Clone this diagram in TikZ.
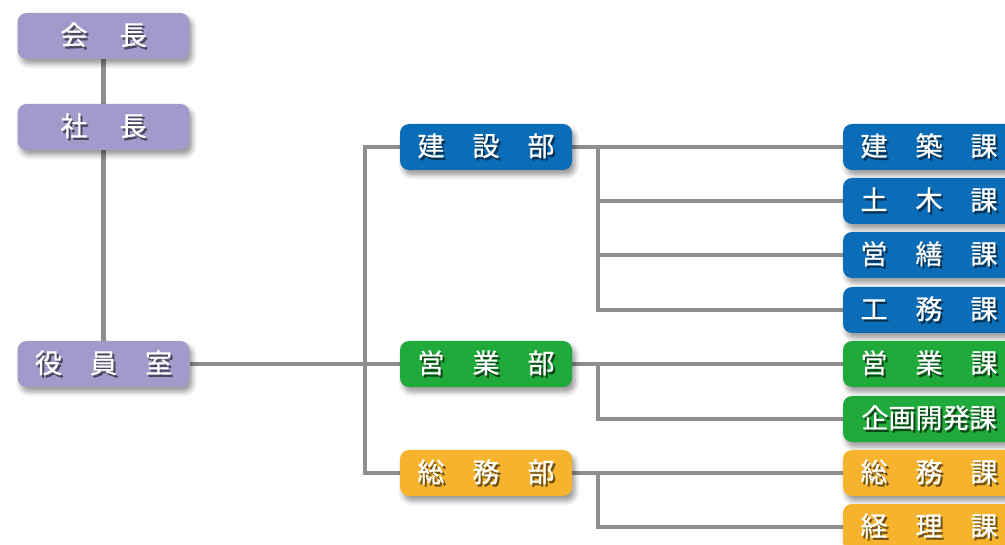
\documentclass[tikz,border=0pt]{standalone}
\usepackage{fontspec}
\setmainfont{Noto Sans CJK JP}[FakeBold=0.6]
\usetikzlibrary{shadows.blur,backgrounds}
\definecolor{cpurple}{HTML}{A09BCB}
\definecolor{cblue}{HTML}{0B6DB7}
\definecolor{cgreen}{HTML}{20AA3B}
\definecolor{corange}{HTML}{F6B42E}
\definecolor{cline}{HTML}{8E8E8E}
\newcommand\shtx[2]{\rlap{\hspace{2pt}\raisebox{-2.5pt}{\color{#1}#2}}#2}
\newcommand\gapA{\hspace{32pt}}
\newcommand\gapB{\hspace{28pt}}
\tikzset{
  box/.style={rounded corners=9pt, minimum width=172pt, minimum height=46pt, inner sep=0pt,
    text=white, font=\fontsize{27}{27}\selectfont,
    blur shadow={shadow xshift=3pt, shadow yshift=-5pt, shadow blur radius=5pt, shadow opacity=40}},
  pbox/.style={box, fill=cpurple},
  bbox/.style={box, fill=cblue},
  gbox/.style={box, fill=cgreen},
  obox/.style={box, fill=corange},
  conn/.style={draw=cline, line width=4.5pt}
}
\begin{document}
\begin{tikzpicture}[x=1pt,y=-1pt]
\useasboundingbox (0,0) rectangle (1005,545);
\clip (0,0) rectangle (1005,545);
\coordinate (j1) at (365,364);
\coordinate (b1) at (598,147);
\coordinate (b2) at (598,364);
\coordinate (b3) at (598,473);
\node[pbox] (kaicho) at (103.5,36) {\shtx{cpurple!45!black}{会}\gapA\shtx{cpurple!45!black}{長}};
\node[pbox] (shacho) at (103.5,127) {\shtx{cpurple!45!black}{社}\gapA\shtx{cpurple!45!black}{長}};
\node[pbox] (yakuin) at (103.5,364) {\shtx{cpurple!45!black}{役}\gapB\shtx{cpurple!45!black}{員}\gapB\shtx{cpurple!45!black}{室}};
\node[bbox] (kensetsubu) at (486,147) {\shtx{cblue!45!black}{建}\gapB\shtx{cblue!45!black}{設}\gapB\shtx{cblue!45!black}{部}};
\node[gbox] (eigyobu) at (486,364) {\shtx{cgreen!40!black}{営}\gapB\shtx{cgreen!40!black}{業}\gapB\shtx{cgreen!40!black}{部}};
\node[obox] (somubu) at (486,473) {\shtx{corange!45!black}{総}\gapB\shtx{corange!45!black}{務}\gapB\shtx{corange!45!black}{部}};
\node[bbox] (kenchiku) at (929,147) {\shtx{cblue!45!black}{建}\gapB\shtx{cblue!45!black}{築}\gapB\shtx{cblue!45!black}{課}};
\node[bbox] (doboku) at (929,201) {\shtx{cblue!45!black}{土}\gapB\shtx{cblue!45!black}{木}\gapB\shtx{cblue!45!black}{課}};
\node[bbox] (eizen) at (929,255) {\shtx{cblue!45!black}{営}\gapB\shtx{cblue!45!black}{繕}\gapB\shtx{cblue!45!black}{課}};
\node[bbox] (koumu) at (929,310) {\shtx{cblue!45!black}{工}\gapB\shtx{cblue!45!black}{務}\gapB\shtx{cblue!45!black}{課}};
\node[gbox] (eigyoka) at (929,364) {\shtx{cgreen!40!black}{営}\gapB\shtx{cgreen!40!black}{業}\gapB\shtx{cgreen!40!black}{課}};
\node[gbox] (kikaku) at (929,419) {\shtx{cgreen!40!black}{企画開発課}};
\node[obox] (somuka) at (929,473) {\shtx{corange!45!black}{総}\gapB\shtx{corange!45!black}{務}\gapB\shtx{corange!45!black}{課}};
\node[obox] (keiri) at (929,527) {\shtx{corange!45!black}{経}\gapB\shtx{corange!45!black}{理}\gapB\shtx{corange!45!black}{課}};
\begin{scope}[on background layer]
  \draw[conn] (kaicho) -- (shacho);
  \draw[conn] (shacho) -- (yakuin);
  \draw[conn] (yakuin.east) -- (j1);
  \draw[conn] (kensetsubu.west) -| (j1) |- (somubu.west);
  \draw[conn] (j1) -- (eigyobu.west);
  \draw[conn] (kensetsubu.east) -- (kenchiku.west);
  \draw[conn] (b1) |- (doboku.west);
  \draw[conn] (b1) |- (eizen.west);
  \draw[conn] (b1) |- (koumu.west);
  \draw[conn] (eigyobu.east) -- (eigyoka.west);
  \draw[conn] (b2) |- (kikaku.west);
  \draw[conn] (somubu.east) -- (somuka.west);
  \draw[conn] (b3) |- (keiri.west);
\end{scope}
\end{tikzpicture}
\end{document}
